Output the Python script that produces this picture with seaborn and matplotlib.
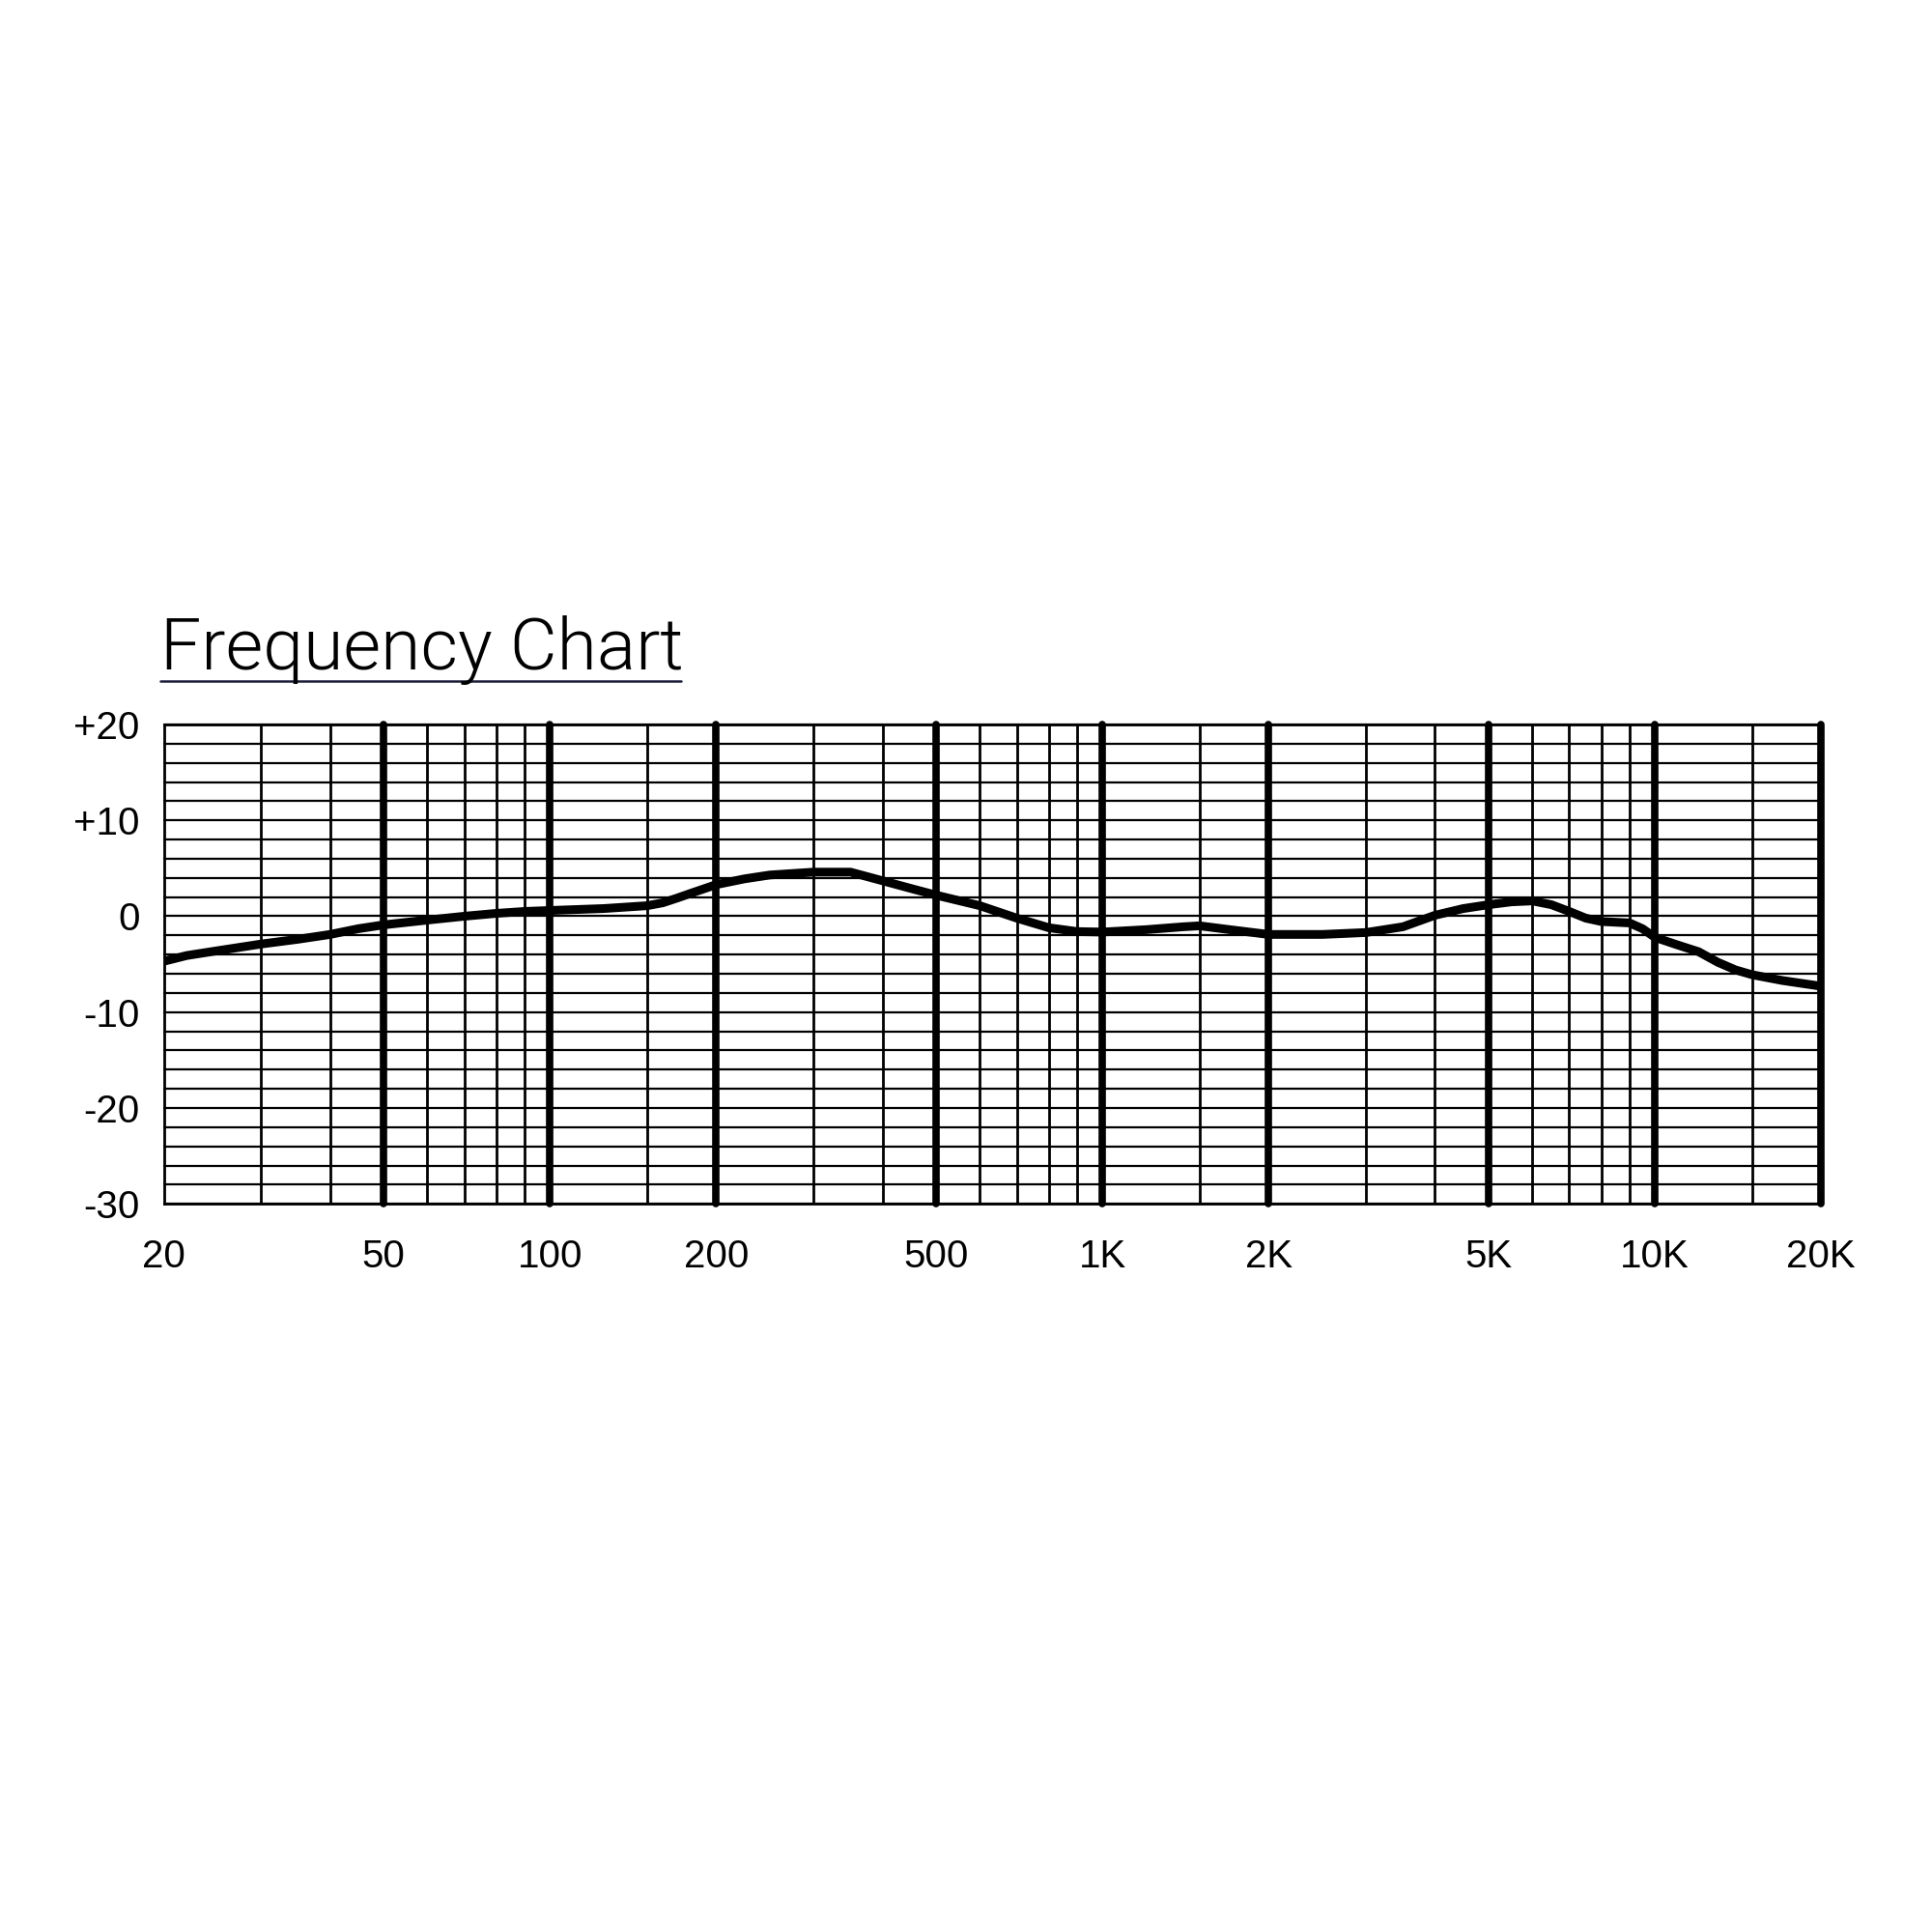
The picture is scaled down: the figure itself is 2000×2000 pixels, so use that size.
import matplotlib
matplotlib.use("Agg")
import matplotlib.pyplot as plt
from matplotlib import font_manager as fm
from matplotlib.lines import Line2D
import seaborn as sns

# response curve (Hz, dB)
freq = [20, 22, 25, 30, 35, 40, 45, 50, 60, 70, 80, 90, 100, 125, 150, 160,
        170, 180, 200, 225, 250, 300, 350, 400, 450, 500, 600, 700, 800, 900,
        1000, 1200, 1400, 1500, 1700, 2000, 2500, 3000, 3500, 4000, 4500, 5000,
        5500, 6000, 6500, 7000, 7500, 8000, 9000, 9500, 10000, 11000, 12000,
        13000, 14000, 15000, 17000, 20000]
db = [-4.7, -4.1, -3.6, -2.9, -2.4, -1.9, -1.3, -0.9, -0.4, 0.0, 0.3, 0.5,
      0.6, 0.8, 1.1, 1.4, 1.9, 2.4, 3.3, 3.9, 4.3, 4.6, 4.6, 3.7, 2.9, 2.2,
      1.1, -0.2, -1.2, -1.6, -1.65, -1.4, -1.1, -1.0, -1.4, -1.9, -1.9, -1.7,
      -1.1, 0.1, 0.8, 1.2, 1.5, 1.6, 1.2, 0.5, -0.2, -0.55, -0.7, -1.3, -2.2,
      -3.0, -3.7, -4.8, -5.6, -6.1, -6.7, -7.3]

# tick labels
x_ticks = [20, 50, 100, 200, 500, 1000, 2000, 5000, 10000, 20000]
x_labels = ["20", "50", "100", "200", "500", "1K", "2K", "5K", "10K", "20K"]
y_ticks = [-30, -20, -10, 0, 10, 20]
y_labels = ["-30", "-20", "-10", "0", "+10", "+20"]

# grid paper lines
thick_lines = [50, 100, 200, 500, 1000, 2000, 5000, 10000, 20000]
thin_lines = [30, 40, 60, 70, 80, 90, 150, 300, 400, 600, 700, 800, 900,
              1500, 3000, 4000, 6000, 7000, 8000, 9000, 15000]
db_lines = list(range(-30, 21, 2))

sns.set_theme(style="white")
plt.rcParams["font.family"] = ["Liberation Sans", "DejaVu Sans"]

# a light, fairly narrow sans for the title
order = ["Roboto", "Lato", "Open Sans", "Noto Sans", "Inter"]
cands = [f for f in fm.fontManager.ttflist
         if f.name in order and isinstance(f.weight, int)
         and 250 <= f.weight <= 300 and f.style == "normal"]
if cands:
    best = sorted(cands, key=lambda f: (order.index(f.name), abs(f.weight - 300)))[0]
    title_font = fm.FontProperties(fname=best.fname, size=54)
else:
    title_font = fm.FontProperties(family="DejaVu Sans", weight="light", size=54)

fig = plt.figure(figsize=(20, 20), dpi=100)
ax = fig.add_axes([0.0848, 0.3769, 0.8578, 0.2481])

ax.set_xscale("log")
ax.set_xlim(20, 20000)
ax.set_ylim(-30, 20)

for y in db_lines:
    ax.axhline(y, color="black", lw=1.6, zorder=1, clip_on=False)
for f in thin_lines:
    ax.axvline(f, color="black", lw=2.0, zorder=1)
for f in thick_lines:
    ax.axvline(f, color="black", lw=5.5, zorder=1, clip_on=False)

sns.lineplot(x=freq, y=db, ax=ax, color="black", lw=6.5, zorder=3)

ax.set_xticks(x_ticks)
ax.set_xticklabels(x_labels)
ax.minorticks_off()
ax.set_yticks(y_ticks)
ax.set_yticklabels(y_labels)
ax.tick_params(axis="both", length=0, labelsize=29, colors="black")
ax.tick_params(axis="x", pad=26)
ax.tick_params(axis="y", pad=18)
ax.set_xlabel("")
ax.set_ylabel("")
for s in ax.spines.values():
    s.set_color("black")
    s.set_linewidth(2.0)

fig.text(0.0829, 0.6537, "Frequency Chart", fontproperties=title_font,
         color="black", ha="left", va="baseline")
fig.add_artist(Line2D([0.0829, 0.3527], [0.6473, 0.6473], color="#1c1c3a",
                      lw=1.8, transform=fig.transFigure))

fig.savefig("out.png", dpi=100, facecolor="white")
